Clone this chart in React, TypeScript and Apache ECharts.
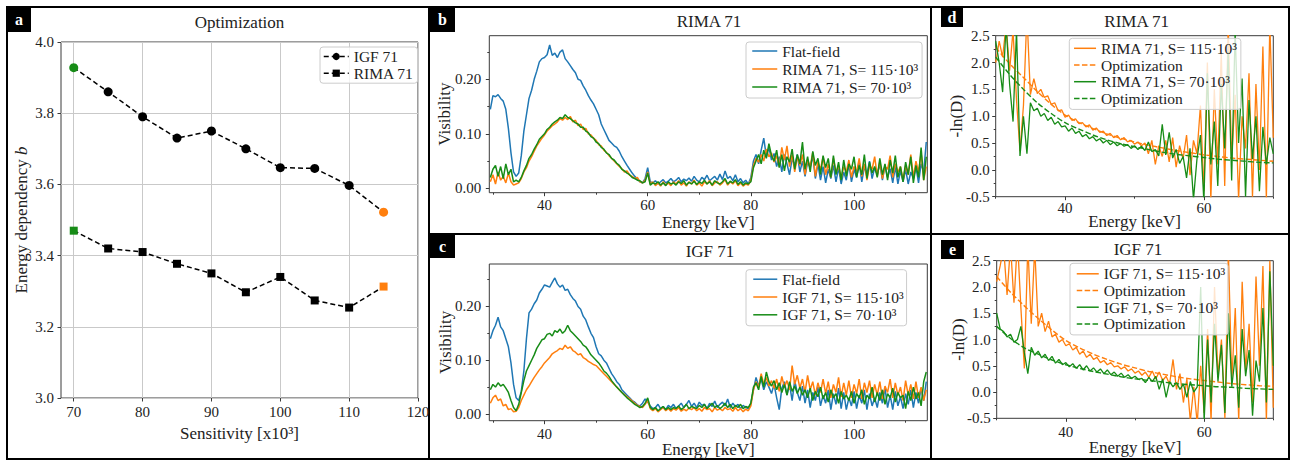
import React, { useEffect, useRef } from 'react';
import * as echarts from 'echarts';

const FONT = '"Liberation Serif", "Times New Roman", serif';
const BLUE = '#1f77b4';
const ORANGE = '#ff7f0e';
const GREEN = '#178c17';
const SPINE = '#3a3a3a';
const TXT = '#222222';

// ---------- Panel a ----------
const sensitivity = [70, 75, 80, 85, 90, 95, 100, 105, 110, 115];
const bIGF = [3.928, 3.86, 3.79, 3.73, 3.75, 3.70, 3.647, 3.645, 3.597, 3.522];
const bRIMA = [3.47, 3.42, 3.41, 3.377, 3.35, 3.297, 3.34, 3.274, 3.254, 3.313];
const sensTicks = [70, 80, 90, 100, 110, 120];
const bTicks = [3.0, 3.2, 3.4, 3.6, 3.8, 4.0];

// ---------- Panels b, c (spectra 29.5..114 keV, 0.5 keV step) ----------
const specStart = 29.5;
const specStep = 0.5;
const flatB = [
  0.145,0.170,0.168,0.172,0.165,0.160,0.145,0.110,0.065,0.030,
  0.022,0.028,0.060,0.105,0.135,0.165,0.180,0.200,0.215,0.232,
  0.238,0.240,0.245,0.263,0.244,0.248,0.240,0.250,0.254,0.238,
  0.232,0.225,0.218,0.212,0.200,0.198,0.188,0.180,0.170,0.162,
  0.155,0.145,0.135,0.118,0.108,0.098,0.088,0.083,0.078,0.075,
  0.068,0.058,0.050,0.042,0.035,0.028,0.022,0.017,0.012,0.010,
  0.018,0.038,0.012,0.010,0.014,0.008,0.012,0.016,0.010,0.013,
  0.018,0.012,0.015,0.020,0.012,0.017,0.014,0.019,0.013,0.022,
  0.015,0.012,0.020,0.016,0.024,0.014,0.018,0.022,0.015,0.026,
  0.016,0.032,0.018,0.022,0.014,0.025,0.012,0.018,0.010,0.015,
  0.008,0.020,0.050,0.062,0.045,0.070,0.092,0.058,0.075,0.052,
  0.064,0.040,0.058,0.030,0.062,0.045,0.025,0.055,0.042,0.062,
  0.030,0.050,0.022,0.048,0.038,0.060,0.018,0.045,0.015,0.040,
  0.010,0.035,0.018,0.042,0.012,0.038,0.008,0.030,0.015,0.045,
  0.012,0.035,0.020,0.048,0.012,0.040,0.025,0.050,0.018,0.038,
  0.025,0.045,0.015,0.042,0.020,0.036,0.010,0.040,0.008,0.032,
  0.012,0.035,0.008,0.030,0.018,0.040,0.010,0.045,0.030,0.085,
];
const rima115 = [
  0.012,0.025,0.008,0.030,0.015,0.022,0.010,0.028,0.012,0.006,
  0.008,0.010,0.018,0.030,0.038,0.050,0.058,0.068,0.078,0.085,
  0.092,0.098,0.105,0.110,0.115,0.118,0.122,0.128,0.125,0.130,
  0.126,0.132,0.122,0.125,0.115,0.118,0.108,0.110,0.100,0.098,
  0.092,0.088,0.080,0.078,0.070,0.066,0.060,0.055,0.050,0.045,
  0.040,0.036,0.030,0.032,0.024,0.022,0.018,0.020,0.012,0.010,
  0.015,0.030,0.008,0.012,0.005,0.010,0.004,0.012,0.006,0.010,
  0.005,0.012,0.008,0.014,0.006,0.010,0.004,0.012,0.008,0.015,
  0.006,0.010,0.004,0.012,0.008,0.014,0.005,0.010,0.012,0.006,
  0.010,0.016,0.006,0.012,0.008,0.014,0.005,0.010,0.004,0.008,
  0.006,0.015,0.042,0.055,0.048,0.062,0.050,0.072,0.058,0.065,
  0.048,0.060,0.040,0.075,0.052,0.078,0.040,0.062,0.030,0.058,
  0.042,0.062,0.025,0.052,0.040,0.066,0.022,0.048,0.035,0.058,
  0.025,0.045,0.020,0.055,0.028,0.042,0.018,0.040,0.030,0.052,
  0.020,0.040,0.030,0.055,0.022,0.045,0.015,0.042,0.035,0.058,
  0.022,0.050,0.018,0.040,0.035,0.060,0.020,0.045,0.030,0.040,
  0.015,0.042,0.025,0.062,0.020,0.050,0.030,0.065,0.015,0.040,
];
const rima70 = [
  0.020,0.035,0.042,0.022,0.040,0.018,0.045,0.025,0.035,0.012,
  0.015,0.012,0.020,0.032,0.042,0.055,0.062,0.072,0.080,0.090,
  0.095,0.100,0.108,0.112,0.118,0.122,0.125,0.130,0.128,0.135,
  0.130,0.128,0.124,0.120,0.118,0.112,0.112,0.105,0.102,0.095,
  0.092,0.085,0.082,0.075,0.072,0.065,0.062,0.055,0.052,0.046,
  0.042,0.035,0.032,0.028,0.025,0.020,0.018,0.015,0.014,0.010,
  0.012,0.028,0.006,0.010,0.008,0.012,0.006,0.010,0.005,0.012,
  0.008,0.010,0.006,0.012,0.009,0.014,0.006,0.011,0.008,0.013,
  0.007,0.012,0.009,0.015,0.008,0.012,0.006,0.014,0.010,0.008,
  0.012,0.018,0.008,0.013,0.010,0.016,0.007,0.012,0.006,0.010,
  0.008,0.012,0.038,0.050,0.062,0.045,0.070,0.055,0.082,0.060,
  0.050,0.070,0.038,0.062,0.032,0.058,0.048,0.072,0.035,0.062,
  0.045,0.085,0.035,0.058,0.030,0.068,0.042,0.055,0.025,0.060,
  0.038,0.055,0.020,0.060,0.025,0.048,0.015,0.052,0.022,0.045,
  0.035,0.058,0.020,0.042,0.025,0.062,0.018,0.048,0.028,0.040,
  0.020,0.055,0.025,0.045,0.015,0.052,0.028,0.060,0.020,0.040,
  0.012,0.048,0.025,0.058,0.010,0.042,0.020,0.075,0.015,0.058,
];
const flatC = [
  0.140,0.155,0.165,0.180,0.162,0.155,0.140,0.125,0.095,0.055,
  0.030,0.025,0.042,0.080,0.140,0.188,0.195,0.205,0.212,0.225,
  0.232,0.240,0.238,0.236,0.245,0.253,0.242,0.236,0.240,0.230,
  0.232,0.222,0.215,0.210,0.200,0.195,0.182,0.175,0.162,0.150,
  0.142,0.125,0.112,0.108,0.100,0.095,0.085,0.075,0.068,0.060,
  0.055,0.045,0.040,0.035,0.030,0.025,0.022,0.017,0.015,0.020,
  0.028,0.022,0.015,0.010,0.012,0.018,0.010,0.014,0.008,0.016,
  0.012,0.018,0.010,0.015,0.020,0.012,0.018,0.025,0.014,0.020,
  0.012,0.022,0.016,0.018,0.010,0.020,0.014,0.024,0.012,0.018,
  0.022,0.015,0.028,0.012,0.020,0.014,0.018,0.010,0.016,0.012,
  0.010,0.020,0.045,0.068,0.052,0.065,0.045,0.060,0.050,0.038,
  0.055,0.030,0.008,0.048,0.060,0.035,0.055,0.025,0.062,0.040,
  0.025,0.052,0.020,0.045,0.012,0.040,0.025,0.050,0.015,0.035,
  0.020,0.045,0.008,0.038,0.018,0.048,0.010,0.040,0.008,0.030,
  0.015,0.042,0.010,0.035,0.020,0.045,0.008,0.038,0.015,0.030,
  0.012,0.040,0.020,0.048,0.012,0.035,0.008,0.042,0.015,0.032,
  0.010,0.038,0.018,0.045,0.012,0.040,0.020,0.048,0.025,0.060,
];
const igf115 = [
  0.020,0.030,0.035,0.025,0.028,0.015,0.018,0.008,0.010,0.004,
  0.005,0.012,0.025,0.035,0.045,0.052,0.060,0.068,0.075,0.082,
  0.088,0.095,0.100,0.105,0.112,0.115,0.118,0.122,0.120,0.128,
  0.122,0.125,0.118,0.115,0.110,0.112,0.105,0.102,0.098,0.095,
  0.092,0.090,0.085,0.080,0.075,0.070,0.065,0.060,0.055,0.050,
  0.045,0.040,0.036,0.032,0.028,0.024,0.020,0.016,0.014,0.012,
  0.018,0.025,0.010,0.006,0.010,0.004,0.008,0.012,0.006,0.010,
  0.005,0.010,0.007,0.012,0.005,0.009,0.006,0.011,0.008,0.012,
  0.006,0.010,0.005,0.012,0.008,0.010,0.004,0.012,0.007,0.010,
  0.006,0.012,0.008,0.010,0.005,0.012,0.006,0.010,0.004,0.009,
  0.006,0.015,0.045,0.060,0.050,0.075,0.055,0.068,0.052,0.062,
  0.048,0.065,0.042,0.070,0.050,0.062,0.045,0.090,0.055,0.072,
  0.048,0.065,0.040,0.072,0.045,0.060,0.035,0.058,0.040,0.065,
  0.038,0.060,0.030,0.055,0.040,0.068,0.032,0.058,0.035,0.062,
  0.030,0.055,0.038,0.065,0.028,0.058,0.040,0.062,0.030,0.055,
  0.035,0.060,0.028,0.052,0.040,0.065,0.030,0.058,0.035,0.050,
  0.025,0.062,0.035,0.055,0.028,0.060,0.030,0.050,0.025,0.045,
];
const igf70 = [
  0.045,0.055,0.050,0.058,0.052,0.055,0.048,0.040,0.025,0.012,
  0.006,0.018,0.040,0.062,0.080,0.090,0.100,0.110,0.122,0.130,
  0.138,0.140,0.148,0.150,0.145,0.155,0.152,0.158,0.150,0.155,
  0.165,0.155,0.150,0.145,0.140,0.135,0.128,0.125,0.118,0.110,
  0.105,0.100,0.095,0.088,0.080,0.076,0.070,0.062,0.056,0.050,
  0.045,0.040,0.035,0.030,0.026,0.022,0.018,0.015,0.012,0.014,
  0.020,0.030,0.012,0.008,0.012,0.006,0.010,0.014,0.008,0.012,
  0.008,0.012,0.010,0.015,0.008,0.012,0.018,0.010,0.014,0.012,
  0.010,0.016,0.012,0.018,0.010,0.015,0.020,0.012,0.016,0.010,
  0.014,0.020,0.012,0.018,0.010,0.016,0.012,0.018,0.010,0.014,
  0.012,0.020,0.050,0.058,0.045,0.070,0.050,0.078,0.060,0.052,
  0.062,0.045,0.058,0.040,0.055,0.035,0.060,0.042,0.052,0.038,
  0.050,0.035,0.045,0.030,0.048,0.025,0.042,0.032,0.050,0.028,
  0.040,0.022,0.045,0.030,0.038,0.020,0.042,0.028,0.035,0.025,
  0.042,0.020,0.038,0.030,0.045,0.018,0.035,0.028,0.050,0.022,
  0.040,0.025,0.045,0.018,0.038,0.030,0.048,0.022,0.040,0.030,
  0.035,0.010,0.042,0.025,0.050,0.028,0.040,0.015,0.060,0.078,
];

// ---------- Panels d, e (-ln(D), 30..70 keV, 0.5 keV step) ----------
const dStart = 30;
const dStep = 0.5;
const dRima115 = [
  2.00,2.40,2.10,2.70,1.85,2.60,1.30,0.35,1.20,2.90,
  1.40,1.70,1.42,1.50,1.35,1.38,1.22,1.25,1.10,1.12,
  0.98,1.02,0.92,0.95,0.86,0.88,0.80,0.84,0.74,0.78,
  0.70,0.72,0.64,0.68,0.60,0.64,0.56,0.60,0.52,0.55,
  0.48,0.52,0.45,0.50,0.30,0.55,0.10,0.45,0.25,0.55,
  0.15,0.60,0.05,0.45,0.20,0.65,-0.10,0.55,0.30,1.20,
  -0.40,2.00,-0.55,1.50,0.10,2.20,-0.30,2.70,0.20,1.40,
  -0.55,1.00,0.40,1.80,-0.50,1.60,0.00,2.30,-0.55,2.70,
  0.60,
];
const dRima70 = [
  2.40,2.00,1.45,2.70,1.60,0.90,2.60,0.26,1.00,0.30,
  1.25,1.10,1.15,1.00,1.05,0.92,0.98,0.85,0.90,0.80,
  0.82,0.72,0.78,0.68,0.72,0.62,0.66,0.58,0.62,0.54,
  0.58,0.50,0.55,0.47,0.52,0.45,0.49,0.44,0.47,0.40,
  0.45,0.38,0.44,0.36,0.52,0.34,0.38,0.26,0.85,0.28,
  0.70,0.22,0.38,0.12,0.25,-0.15,0.40,-0.55,0.20,0.65,
  -0.60,1.80,0.10,0.90,-0.30,1.60,0.40,2.20,-0.20,2.60,
  0.50,1.70,-0.50,1.30,0.20,1.00,-0.40,0.80,0.10,0.60,
  0.30,
];
const eIgf115 = [
  2.10,2.40,2.75,1.85,2.80,1.70,2.90,1.60,0.45,2.80,
  1.30,2.75,1.25,1.50,1.15,1.35,1.05,1.10,0.95,1.00,
  0.88,0.92,0.80,0.85,0.72,0.78,0.66,0.72,0.62,0.66,
  0.56,0.60,0.52,0.56,0.48,0.50,0.44,0.48,0.40,0.44,
  0.36,0.40,0.32,0.38,0.28,0.40,0.25,0.38,0.22,0.30,
  0.15,0.62,0.05,0.35,-0.20,0.25,-0.55,0.10,-0.60,0.50,
  -0.40,1.20,-0.55,2.00,0.30,1.00,-0.50,2.70,0.20,1.60,
  -0.55,2.10,0.40,1.30,-0.20,2.20,0.50,2.40,-0.55,2.50,
  -0.30,
];
const eIgf70 = [
  1.50,1.20,1.15,1.05,1.10,0.95,1.00,1.25,0.75,0.35,
  0.85,0.70,0.78,0.65,0.72,0.60,0.68,0.55,0.62,0.52,
  0.56,0.48,0.54,0.45,0.52,0.42,0.50,0.40,0.46,0.38,
  0.44,0.35,0.42,0.33,0.38,0.30,0.36,0.28,0.33,0.26,
  0.30,0.24,0.26,0.18,0.28,0.20,0.30,0.05,0.25,-0.10,
  0.20,0.10,0.18,0.05,0.15,-0.10,0.20,0.00,0.10,2.00,
  -0.55,1.00,-0.20,1.30,0.20,0.90,-0.40,1.50,0.10,0.70,
  -0.30,1.20,0.30,0.80,-0.45,0.60,0.20,1.60,-0.20,2.30,
  0.50,
];
// optimization curves, 30..70 keV, 2 keV step
const optStart = 30;
const optStep = 2;
const optD115 = [2.28,1.98,1.72,1.46,1.22,1.02,0.88,0.77,0.67,0.59,0.52,0.46,0.41,0.36,0.32,0.28,0.25,0.22,0.20,0.18,0.16];
const optD70 = [2.10,1.78,1.50,1.25,1.05,0.88,0.76,0.65,0.56,0.49,0.43,0.38,0.33,0.29,0.26,0.23,0.20,0.18,0.16,0.14,0.13];
const optE115 = [2.20,1.90,1.64,1.40,1.18,0.98,0.84,0.72,0.62,0.53,0.46,0.39,0.34,0.29,0.25,0.22,0.19,0.16,0.14,0.12,0.11];
const optE70 = [1.25,1.02,0.84,0.72,0.61,0.52,0.45,0.39,0.34,0.29,0.25,0.22,0.19,0.16,0.14,0.12,0.10,0.09,0.07,0.06,0.05];

const specTicks = [40, 60, 80, 100];
const specMinor = [30, 50, 70, 90, 110];
const visTicks = [0, 0.1, 0.2];
const visMinor = [0.05, 0.15, 0.25];
const lnTicksX = [40, 60];
const lnMinorX = [30, 50, 70];
const lnTicksY = [-0.5, 0, 0.5, 1, 1.5, 2, 2.5];
const lnMinorY = [-0.25, 0.25, 0.75, 1.25, 1.75, 2.25];

const LEGEND_LABEL: Record<string, string> = {
  aIGF: 'IGF 71',
  aRIMA: 'RIMA 71',
  bFlat: 'Flat-field',
  b115: 'RIMA 71, S= 115\u00b710\u00b3',
  b70: 'RIMA 71, S= 70\u00b710\u00b3',
  cFlat: 'Flat-field',
  c115: 'IGF 71, S= 115\u00b710\u00b3',
  c70: 'IGF 71, S= 70\u00b710\u00b3',
  d115: 'RIMA 71, S= 115\u00b710\u00b3',
  dOpt115: 'Optimization',
  d70: 'RIMA 71, S= 70\u00b710\u00b3',
  dOpt70: 'Optimization',
  e115: 'IGF 71, S= 115\u00b710\u00b3',
  eOpt115: 'Optimization',
  e70: 'IGF 71, S= 70\u00b710\u00b3',
  eOpt70: 'Optimization',
};

const tickLine = { color: SPINE, width: 1 };
const labelStyle = { fontFamily: FONT, fontSize: 15, color: TXT };
const nameStyle = { fontFamily: FONT, fontSize: 17, color: TXT };

function mainAxis(dim: 'x' | 'y', gridIndex: number, min: number, max: number, ticks: number[], decimals: number,
  margin: number, name: string, nameGap: number, extra: any = {}) {
  return {
    type: 'value', gridIndex, min, max,
    position: dim === 'x' ? 'bottom' : 'left',
    name, nameLocation: 'middle', nameGap, nameMoveOverlap: false,
    nameTextStyle: nameStyle,
    axisLine: { show: false, onZero: false },
    axisTick: { show: true, length: 3.5, lineStyle: tickLine, customValues: ticks },
    axisLabel: {
      show: true, margin, ...labelStyle, customValues: ticks,
      formatter: (v: number) => Number(v).toFixed(decimals),
    },
    splitLine: { show: false },
    ...extra,
  };
}
function minorAxis(dim: 'x' | 'y', gridIndex: number, min: number, max: number, ticks: number[]) {
  return {
    type: 'value', gridIndex, min, max,
    position: dim === 'x' ? 'bottom' : 'left',
    axisLine: { show: false, onZero: false }, axisLabel: { show: false }, splitLine: { show: false },
    axisTick: { show: true, length: 2, lineStyle: tickLine, customValues: ticks },
  };
}
function grid(left: number, top: number, width: number, height: number) {
  return { left, top, width, height, show: true, borderColor: SPINE, borderWidth: 1, backgroundColor: 'rgba(0,0,0,0)', outerBoundsMode: 'none', containLabel: false };
}
function xs(start: number, step: number, n: number) {
  const out: number[] = [];
  for (let i = 0; i < n; i++) out.push(+(start + step * i).toFixed(3));
  return out;
}
function lineSeries(name: string, axis: number, start: number, step: number, ys: number[], color: string, width: number, dashed = false) {
  const x = xs(start, step, ys.length);
  return {
    type: 'line', name, xAxisIndex: axis, yAxisIndex: axis,
    data: ys.map((v, i) => [x[i], v]),
    symbol: 'none', showSymbol: false, clip: true, smooth: dashed ? 0.3 : false,
    lineStyle: { color, width, type: dashed ? [5.5, 2.4] : 'solid' },
    itemStyle: { color }, emphasis: { disabled: true }, silent: true,
  };
}
function legend(data: string[], left: number, top: number, padding: number[], itemWidth: number, itemGap: number, lineHeight: number, extra: any = {}) {
  return {
    data, orient: 'vertical', left, top, padding, itemWidth, itemHeight: 4, itemGap,
    selectedMode: false, backgroundColor: 'rgba(255,255,255,0.8)', borderColor: '#cccccc', borderWidth: 1, borderRadius: 3,
    textStyle: { fontFamily: FONT, fontSize: 15.5, color: TXT, lineHeight },
    formatter: (n: string) => LEGEND_LABEL[n] ?? n,
    itemStyle: { opacity: 0 },
    lineStyle: { width: 1.5 },
    ...extra,
  };
}
function title(text: string, x: number, y: number) {
  return {
    type: 'text', x, y, silent: true,
    style: { text, fill: TXT, fontSize: 17, fontFamily: FONT, align: 'center', verticalAlign: 'middle', textAlign: 'center', textVerticalAlign: 'middle' },
  };
}
function tag(letter: string, x: number, y: number, w: number, h: number) {
  return {
    type: 'group', silent: true,
    children: [
      { type: 'rect', shape: { x, y, width: w, height: h }, style: { fill: '#000' } },
      {
        type: 'text', x: x + w / 2, y: y + h / 2,
        style: { text: letter, fill: '#fff', fontSize: 16, fontWeight: 'bold', fontFamily: FONT, align: 'center', verticalAlign: 'middle', textAlign: 'center', textVerticalAlign: 'middle' },
      },
    ],
  };
}

const gridLineStyle = { show: true, lineStyle: { color: '#c9c9c9', width: 1 } };

const option: any = {
  animation: false,
  textStyle: { fontFamily: FONT },
  grid: [
    grid(61, 42, 357, 356),
    grid(489.3, 35.7, 438, 157),
    grid(489.3, 264, 438, 156.7),
    grid(995.7, 35.7, 277.6, 161),
    grid(996.7, 260.7, 276.6, 157.6),
  ],
  xAxis: [
    mainAxis('x', 0, 68.15, 120, sensTicks, 0, 6, 'Sensitivity [x10\u00b3]', 27, { splitLine: gridLineStyle }),
    mainAxis('x', 1, 29.3, 114.2, specTicks, 0, 5, 'Energy [keV]', 21),
    mainAxis('x', 2, 29.3, 114.2, specTicks, 0, 5.5, 'Energy [keV]', 20),
    mainAxis('x', 3, 30, 70, lnTicksX, 0, 4, 'Energy [keV]', 16),
    mainAxis('x', 4, 30, 70, lnTicksX, 0, 6, 'Energy [keV]', 20.5),
    minorAxis('x', 1, 29.3, 114.2, specMinor),
    minorAxis('x', 2, 29.3, 114.2, specMinor),
    minorAxis('x', 3, 30, 70, lnMinorX),
    minorAxis('x', 4, 30, 70, lnMinorX),
  ],
  yAxis: [
    mainAxis('y', 0, 3, 4, bTicks, 1, 7, 'Energy dependency {i|b}', 31.5, {
      splitLine: gridLineStyle,
      nameTextStyle: { ...nameStyle, rich: { i: { ...nameStyle, fontStyle: 'italic' } } },
    }),
    mainAxis('y', 1, -0.008, 0.28, visTicks, 2, 8, 'Visibility', 36),
    mainAxis('y', 2, -0.0125, 0.279, visTicks, 2, 8, 'Visibility', 35),
    mainAxis('y', 3, -0.5, 2.5, lnTicksY, 1, 6, '-ln(D)', 30.5),
    mainAxis('y', 4, -0.5, 2.5, lnTicksY, 1, 6, '-ln(D)', 30),
    minorAxis('y', 1, -0.008, 0.28, visMinor),
    minorAxis('y', 2, -0.0125, 0.279, visMinor),
    minorAxis('y', 3, -0.5, 2.5, lnMinorY),
    minorAxis('y', 4, -0.5, 2.5, lnMinorY),
  ],
  legend: [
    legend(['aIGF', 'aRIMA'], 320, 47, [1.5, 4, 2, 3], 25, 0.7, 15, { itemHeight: 9, itemStyle: {} }),
    legend(['bFlat', 'b115', 'b70'], 746, 42, [1, 3, 3, 5.5], 25, 2, 16),
    legend(['cFlat', 'c115', 'c70'], 746, 269.7, [1.5, 3, 3, 6.5], 24, 1.8, 16),
    legend(['d115', 'dOpt115', 'd70', 'dOpt70'], 1069.3, 38.3, [2, 3, 3, 4], 22, 0.7, 16),
    legend(['e115', 'eOpt115', 'e70', 'eOpt70'], 1070, 263.3, [2.5, 3, 3, 6], 22, 0.7, 16),
  ],
  series: [
    {
      type: 'line', name: 'aIGF', xAxisIndex: 0, yAxisIndex: 0,
      data: sensitivity.map((s, i) => ({
        value: [s, bIGF[i]],
        itemStyle: { color: i === 0 ? GREEN : i === sensitivity.length - 1 ? ORANGE : '#000' },
      })),
      symbol: 'circle', symbolSize: 9, showSymbol: true,
      lineStyle: { color: '#000', width: 1.5, type: [5, 3] },
      itemStyle: { color: '#000' }, emphasis: { disabled: true }, silent: true, z: 3,
    },
    {
      type: 'line', name: 'aRIMA', xAxisIndex: 0, yAxisIndex: 0,
      data: sensitivity.map((s, i) => ({
        value: [s, bRIMA[i]],
        itemStyle: { color: i === 0 ? GREEN : i === sensitivity.length - 1 ? ORANGE : '#000' },
      })),
      symbol: 'rect', symbolSize: 8, showSymbol: true,
      lineStyle: { color: '#000', width: 1.5, type: [5, 3] },
      itemStyle: { color: '#000' }, emphasis: { disabled: true }, silent: true, z: 3,
    },
    lineSeries('bFlat', 1, specStart, specStep, flatB, BLUE, 1.5),
    lineSeries('b115', 1, specStart, specStep, rima115, ORANGE, 1.5),
    lineSeries('b70', 1, specStart, specStep, rima70, GREEN, 1.5),
    lineSeries('cFlat', 2, specStart, specStep, flatC, BLUE, 1.5),
    lineSeries('c115', 2, specStart, specStep, igf115, ORANGE, 1.5),
    lineSeries('c70', 2, specStart, specStep, igf70, GREEN, 1.5),
    lineSeries('d115', 3, dStart, dStep, dRima115, ORANGE, 1.3),
    lineSeries('dOpt115', 3, optStart, optStep, optD115, ORANGE, 1.4, true),
    lineSeries('d70', 3, dStart, dStep, dRima70, GREEN, 1.3),
    lineSeries('dOpt70', 3, optStart, optStep, optD70, GREEN, 1.4, true),
    lineSeries('e115', 4, dStart, dStep, eIgf115, ORANGE, 1.3),
    lineSeries('eOpt115', 4, optStart, optStep, optE115, ORANGE, 1.4, true),
    lineSeries('e70', 4, dStart, dStep, eIgf70, GREEN, 1.3),
    lineSeries('eOpt70', 4, optStart, optStep, optE70, GREEN, 1.4, true),
  ],
  graphic: [
    { type: 'rect', silent: true, shape: { x: 7, y: 7, width: 1282, height: 452 }, style: { fill: 'none', stroke: '#000', lineWidth: 2 } },
    { type: 'line', silent: true, shape: { x1: 429, y1: 7, x2: 429, y2: 459 }, style: { stroke: '#000', lineWidth: 2 } },
    { type: 'line', silent: true, shape: { x1: 931, y1: 7, x2: 931, y2: 459 }, style: { stroke: '#000', lineWidth: 2 } },
    { type: 'line', silent: true, shape: { x1: 429, y1: 234, x2: 1289, y2: 234 }, style: { stroke: '#000', lineWidth: 2 } },
    title('Optimization', 239.5, 22),
    title('RIMA 71', 709, 21.7),
    title('IGF 71', 710, 251),
    title('RIMA 71', 1136.7, 21.7),
    title('IGF 71', 1138, 249),
    tag('a', 7, 7, 24, 25),
    tag('b', 430, 7, 25, 25),
    tag('c', 430, 235, 25, 23),
    tag('d', 941, 7, 22, 20),
    tag('e', 941, 240, 23, 19),
  ],
};

export default function App() {
  const ref = useRef<HTMLDivElement>(null);
  useEffect(() => {
    if (!ref.current) return;
    const chart = echarts.init(ref.current, null, { renderer: 'svg' });
    chart.setOption(option);
    return () => chart.dispose();
  }, []);
  return (
    <div
      ref={ref}
      style={{ position: 'fixed', left: 0, top: 0, width: 1293, height: 460, background: '#fff' }}
    />
  );
}
